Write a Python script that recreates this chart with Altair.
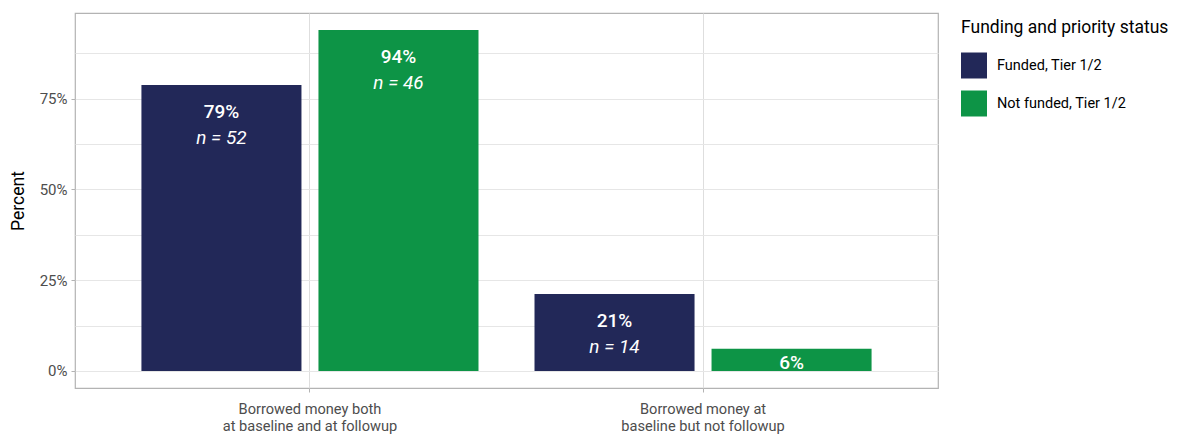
import altair as alt
import pandas as pd

categories = ["Borrowed money both\nat baseline and at followup",
              "Borrowed money at\nbaseline but not followup"]
groups = ["Funded, Tier 1/2", "Not funded, Tier 1/2"]
funded_pct = [0.788, 0.212]
notfunded_pct = [0.939, 0.061]
funded_n = [52, 14]
notfunded_n = [46, None]
colors = ["#222858", "#0d9446"]

rows = []
for i, c in enumerate(categories):
    rows.append({"cat": c, "grp": groups[0], "pct": funded_pct[i], "n": funded_n[i]})
    rows.append({"cat": c, "grp": groups[1], "pct": notfunded_pct[i], "n": notfunded_n[i]})
df = pd.DataFrame(rows)
df["pct_label"] = (df["pct"] * 100).round().astype(int).astype(str) + "%"
df["n_label"] = df["n"].apply(lambda v: "" if pd.isna(v) else f"n = {int(v)}")

FONT = "Roboto"
ydom = [-0.047, 0.986]

x_enc = alt.X("cat:N", sort=categories, title=None,
              scale=alt.Scale(paddingInner=0.1425, paddingOuter=0.169),
              axis=alt.Axis(labelExpr="split(datum.label, '\\n')", labelAngle=0,
                            grid=True, gridColor="#dedede", gridWidth=1,
                            domain=False, ticks=True, tickSize=4, tickColor="#b3b3b3",
                            labelPadding=9, labelFontSize=14.6, labelColor="#4d4d4d",
                            labelFont=FONT, labelLineHeight=17.5))
xoff = alt.XOffset("grp:N", sort=groups, scale=alt.Scale(paddingInner=0.096, paddingOuter=0))
y_scale = alt.Scale(domain=ydom, nice=False, zero=False)

grid_vals = [0, 0.125, 0.25, 0.375, 0.5, 0.625, 0.75, 0.875]

bars = alt.Chart(df).mark_bar().encode(
    x=x_enc,
    xOffset=xoff,
    y=alt.Y("pct:Q", scale=y_scale, title="Percent",
            axis=alt.Axis(values=grid_vals, format=".0%",
                          labelExpr="(datum.value*100) % 25 == 0 ? datum.label : ''",
                          grid=True, gridColor="#e6e6e6", gridWidth=1,
                          domain=False, tickSize=4,
                          tickColor={"condition": {"test": "(datum.value*100) % 25 == 0", "value": "#b3b3b3"}, "value": "transparent"},
                          labelFontSize=15, labelColor="#4d4d4d", labelFont=FONT,
                          labelPadding=4, titleFont=FONT, titleFontSize=17.5,
                          titleFontWeight="normal", titleColor="#000000", titlePadding=12)),
    y2=alt.datum(0),
    color=alt.Color("grp:N", sort=groups,
                    scale=alt.Scale(domain=groups, range=colors),
                    legend=alt.Legend(title="Funding and priority status", orient="none",
                                      legendX=886, legendY=6, symbolType="square",
                                      symbolSize=676, symbolStrokeWidth=0, symbolOpacity=1,
                                      titleFont=FONT, titleFontSize=17.5, titleFontWeight="normal",
                                      titleColor="#000000", titlePadding=16, titleLimit=400,
                                      labelFont=FONT, labelFontSize=14.5, labelColor="#000000",
                                      labelOffset=10, rowPadding=12, labelLimit=300)),
)

pct_big = alt.Chart(df).transform_filter("datum.pct >= 0.1").mark_text(
    color="white", font=FONT, fontSize=19, fontWeight=500, baseline="alphabetic", dy=33
).encode(x=alt.X("cat:N", sort=categories), xOffset=xoff,
         y=alt.Y("pct:Q", scale=y_scale), text="pct_label:N")

n_big = alt.Chart(df).transform_filter("datum.pct >= 0.1").mark_text(
    color="white", font=FONT, fontSize=19, fontStyle="italic", baseline="alphabetic", dy=59
).encode(x=alt.X("cat:N", sort=categories), xOffset=xoff,
         y=alt.Y("pct:Q", scale=y_scale), text="n_label:N")

pct_small = alt.Chart(df).transform_filter("datum.pct < 0.1").mark_text(
    color="white", font=FONT, fontSize=19, fontWeight=500, baseline="alphabetic", dy=20
).encode(x=alt.X("cat:N", sort=categories), xOffset=xoff,
         y=alt.Y("pct:Q", scale=y_scale), text="pct_label:N")

chart = alt.layer(bars, pct_big, n_big, pct_small).properties(
    width=863, height=375,
    autosize=alt.AutoSizeParams(type="none"),
    padding={"left": 75, "top": 13, "right": 239, "bottom": 48},
    background="white",
).configure_view(stroke="#b3b3b3", strokeWidth=1.2)

chart.save("out.html", embed_options={"renderer": "svg", "actions": False})
